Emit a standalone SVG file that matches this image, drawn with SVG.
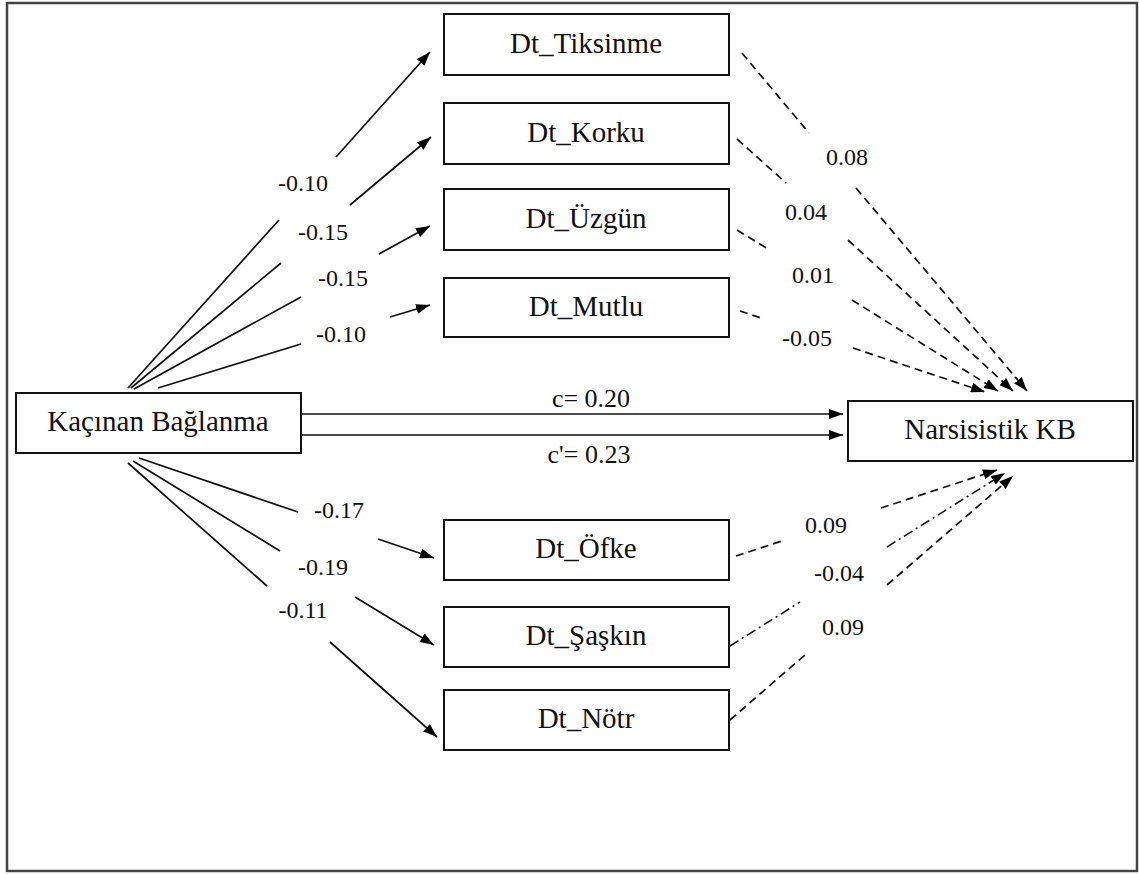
<svg xmlns="http://www.w3.org/2000/svg" width="1139" height="874" viewBox="0 0 1139 874">
<defs>
<marker id="ah" viewBox="0 0 14 10" refX="14" refY="5" markerWidth="14" markerHeight="10" markerUnits="userSpaceOnUse" orient="auto">
<path d="M0,0 L14,5 L0,10 z" fill="#000"/>
</marker>
</defs>
<style>
text{font-family:'Liberation Serif','Times New Roman','DejaVu Serif',serif;fill:#111;text-anchor:middle}
.box{fill:#fff;stroke:#111;stroke-width:2}
.bt{font-size:29px}
.lb{font-size:24px}
.cl{font-size:26px}
.s{stroke:#111;stroke-width:1.7;fill:none}
.d{stroke:#111;stroke-width:1.7;fill:none;stroke-dasharray:8 5}
.dd{stroke:#111;stroke-width:1.5;fill:none;stroke-dasharray:10 4 2 4}
.a{marker-end:url(#ah)}
</style>
<rect x="0" y="0" width="1139" height="874" fill="#fff"/>
<rect x="7" y="3" width="1130" height="868" fill="none" stroke="#444" stroke-width="2.5"/>

<g id="connectors">
<line class="s" x1="128" y1="388" x2="279" y2="220"/>
<line class="s a" x1="336" y1="157" x2="430" y2="52"/>
<line class="s" x1="131" y1="388" x2="281" y2="263"/>
<line class="s a" x1="350" y1="205" x2="431" y2="137"/>
<line class="s" x1="134" y1="389" x2="301" y2="297"/>
<line class="s a" x1="379" y1="254" x2="430" y2="226"/>
<line class="s" x1="158" y1="388" x2="301" y2="344"/>
<line class="s a" x1="390" y1="317" x2="430" y2="305"/>
<line class="d" x1="742" y1="53" x2="809" y2="133"/>
<line class="d a" x1="856" y1="188" x2="1027" y2="391"/>
<line class="d" x1="737" y1="139" x2="786" y2="183"/>
<line class="d a" x1="848" y1="240" x2="1013" y2="391"/>
<line class="d" x1="737" y1="230" x2="768" y2="249"/>
<line class="d a" x1="852" y1="300" x2="998" y2="391"/>
<line class="d" x1="740" y1="311" x2="761" y2="318"/>
<line class="d a" x1="853" y1="348" x2="985" y2="392"/>
<line class="s a" x1="301" y1="414" x2="843" y2="414"/>
<line class="s a" x1="301" y1="435" x2="843" y2="435"/>
<line class="s" x1="139" y1="458" x2="298" y2="512"/>
<line class="s a" x1="378" y1="539" x2="434" y2="558"/>
<line class="s" x1="133" y1="461" x2="280" y2="551"/>
<line class="s a" x1="355" y1="597" x2="434" y2="645"/>
<line class="s" x1="128" y1="463" x2="267" y2="586"/>
<line class="s a" x1="330" y1="642" x2="437" y2="737"/>
<line class="d" x1="736" y1="556" x2="785" y2="540"/>
<line class="d a" x1="881" y1="508" x2="997" y2="470"/>
<line class="dd" x1="730" y1="646" x2="800" y2="602"/>
<line class="dd a" x1="887" y1="547" x2="1005" y2="473"/>
<line class="d" x1="730" y1="720" x2="805" y2="655"/>
<line class="d a" x1="887" y1="585" x2="1013" y2="476"/>
</g>

<g id="labels">
<text class="lb" x="303" y="191">-0.10</text>
<text class="lb" x="323" y="240">-0.15</text>
<text class="lb" x="343" y="286">-0.15</text>
<text class="lb" x="341" y="342">-0.10</text>
<text class="lb" x="847" y="165">0.08</text>
<text class="lb" x="806" y="220">0.04</text>
<text class="lb" x="813" y="283">0.01</text>
<text class="lb" x="807" y="346">-0.05</text>
<text class="cl" x="591" y="407">c= 0.20</text>
<text class="cl" x="589" y="463">c'= 0.23</text>
<text class="lb" x="339" y="518">-0.17</text>
<text class="lb" x="323" y="575">-0.19</text>
<text class="lb" x="303" y="618">-0.11</text>
<text class="lb" x="826" y="533">0.09</text>
<text class="lb" x="839" y="581">-0.04</text>
<text class="lb" x="843" y="635">0.09</text>
</g>

<g id="kacinan"><rect class="box" x="16" y="393" width="285" height="60"/><text class="bt" x="158" y="431">Kaçınan Bağlanma</text></g>
<g id="narsisistik"><rect class="box" x="848" y="401" width="285" height="60"/><text class="bt" x="990" y="439">Narsisistik KB</text></g>
<g id="tiksinme"><rect class="box" x="444" y="14" width="285" height="61"/><text class="bt" x="586" y="53">Dt_Tiksinme</text></g>
<g id="korku"><rect class="box" x="444" y="103" width="285" height="61"/><text class="bt" x="586" y="142">Dt_Korku</text></g>
<g id="uzgun"><rect class="box" x="444" y="189" width="285" height="61"/><text class="bt" x="586" y="228">Dt_Üzgün</text></g>
<g id="mutlu"><rect class="box" x="444" y="278" width="285" height="59"/><text class="bt" x="586" y="316">Dt_Mutlu</text></g>
<g id="ofke"><rect class="box" x="444" y="520" width="285" height="60"/><text class="bt" x="586" y="558">Dt_Öfke</text></g>
<g id="saskin"><rect class="box" x="444" y="607" width="285" height="60"/><text class="bt" x="586" y="645">Dt_Şaşkın</text></g>
<g id="notr"><rect class="box" x="444" y="690" width="285" height="60"/><text class="bt" x="586" y="728">Dt_Nötr</text></g>
</svg>
